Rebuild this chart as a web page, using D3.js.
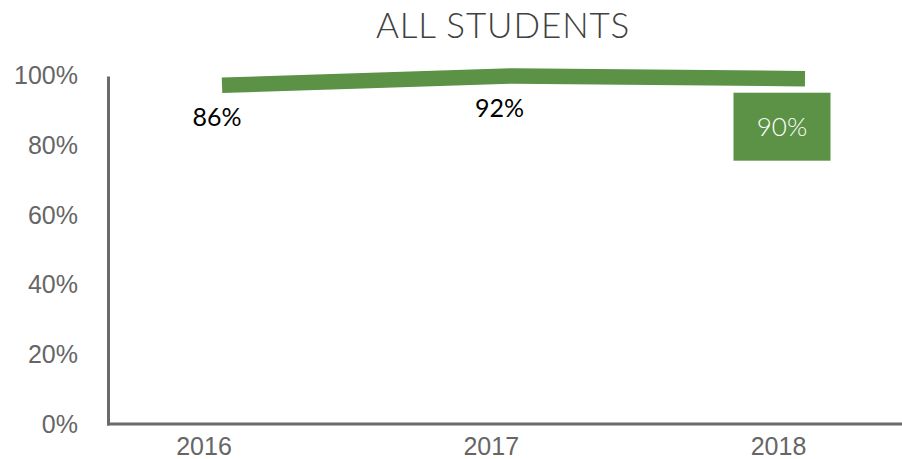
<!DOCTYPE html>
<html>
<head>
<meta charset="utf-8">
<script src="https://cdn.jsdelivr.net/npm/d3@7"></script>
<style>
  html, body { margin: 0; padding: 0; background: #ffffff; }
  svg { display: block; }
</style>
</head>
<body>
<svg id="chart" width="902" height="459"></svg>
<script>
// ---- data ----
const title = "ALL STUDENTS";
const categories = ["2016", "2017", "2018"];
const lineValues = [96.9, 99.6, 98.8];          // plotted line position (%)
const labelTexts = ["86%", "92%", "90%"];        // data label text as shown
const yTicks = [0, 20, 40, 60, 80, 100];
const highlighted = "2018";

// ---- layout ----
const W = 902, H = 459;
const green = "#5b9245";
const axisColor = "#6b6b6b";
const svg = d3.select("#chart");

const y = d3.scaleLinear().domain([0, 100]).range([424, 74.5]);
const xAxisScale = d3.scalePoint().domain(categories).range([203.5, 778]);
const xLine = d3.scalePoint().domain(categories).range([222, 805]);
const xLabel = d3.scalePoint().domain(categories).range([217, 782]);

// title
svg.append("text")
  .attr("x", 503).attr("y", 37.5)
  .attr("text-anchor", "middle")
  .style("font-family", "Lato, 'Open Sans', sans-serif")
  .style("font-weight", 300)
  .style("font-size", "35px")
  .style("letter-spacing", "0.9px")
  .style("fill", "#404040")
  .text(title);

// y axis
const yAxis = d3.axisLeft(y).tickValues(yTicks).tickSize(0).tickPadding(0)
  .tickFormat(d => d + "%");
const yG = svg.append("g").attr("transform", "translate(78,0)").call(yAxis);
yG.select(".domain").remove();
yG.selectAll("text")
  .attr("dy", "0.35em")
  .style("font-family", "'Liberation Sans', Arial, sans-serif")
  .style("font-size", "25px")
  .style("fill", "#666666");

// axis lines
svg.append("line")
  .attr("x1", 108.5).attr("x2", 108.5)
  .attr("y1", y(100) + 2).attr("y2", y(0) + 1.5)
  .attr("stroke", axisColor).attr("stroke-width", 3);
svg.append("line")
  .attr("x1", 107).attr("x2", W)
  .attr("y1", y(0)).attr("y2", y(0))
  .attr("stroke", axisColor).attr("stroke-width", 3);

// x axis labels
const xAxis = d3.axisBottom(xAxisScale).tickSize(0).tickPadding(0);
const xG = svg.append("g").attr("transform", `translate(0,${y(0) + 12})`).call(xAxis);
xG.select(".domain").remove();
xG.selectAll("text")
  .attr("dy", "0.76em")
  .style("font-family", "'Liberation Sans', Arial, sans-serif")
  .style("font-size", "25px")
  .style("fill", "#666666");

// line
const data = categories.map((c, i) => ({ c, v: lineValues[i], label: labelTexts[i] }));
const line = d3.line().x(d => xLine(d.c)).y(d => y(d.v));
svg.append("path")
  .datum(data)
  .attr("d", line)
  .attr("fill", "none")
  .attr("stroke", green)
  .attr("stroke-width", 15.5)
  .attr("stroke-linecap", "butt")
  .attr("stroke-linejoin", "round");

// data labels
const labelFont = "Lato, 'Noto Sans', sans-serif";
data.forEach(d => {
  const lx = xLabel(d.c);
  if (d.c === highlighted) {
    const top = y(d.v) + 14;
    svg.append("rect")
      .attr("x", lx - 48.5).attr("y", top)
      .attr("width", 97).attr("height", 68)
      .attr("fill", green);
    svg.append("text")
      .attr("x", lx).attr("y", top + 34)
      .attr("dy", "0.35em")
      .attr("text-anchor", "middle")
      .style("font-family", labelFont)
      .style("font-weight", 300)
      .style("font-size", "26px")
      .style("fill", "#ffffff")
      .text(d.label);
  } else {
    svg.append("text")
      .attr("x", lx).attr("y", y(d.v) + 41)
      .attr("text-anchor", "middle")
      .style("font-family", labelFont)
      .style("font-weight", 400)
      .style("font-size", "25px")
      .style("fill", "#000000")
      .text(d.label);
  }
});
</script>
</body>
</html>
